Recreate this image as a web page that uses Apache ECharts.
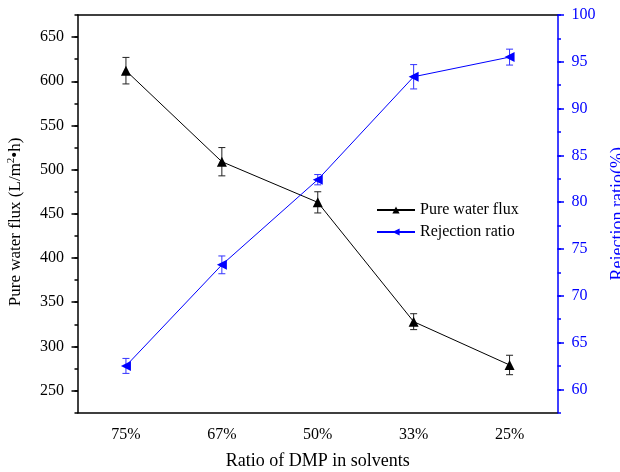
<!DOCTYPE html>
<html>
<head>
<meta charset="utf-8">
<script src="https://cdn.jsdelivr.net/npm/echarts@6/dist/echarts.min.js"></script>
<style>html,body{margin:0;padding:0;background:#fff;}#c{width:620px;height:472px;}</style>
</head>
<body>
<div id="c"></div>
<script>
var categories = ['75%', '67%', '50%', '33%', '25%'];
var fluxValues = [612, 509, 463, 328, 279];
var fluxErrors = [15, 16, 12, 9, 11];
var rejectionValues = [62.5, 73.3, 82.4, 93.4, 95.5];
var rejectionErrors = [0.8, 0.95, 0.55, 1.3, 0.85];
var fluxTicks = [250, 300, 350, 400, 450, 500, 550, 600, 650];
var rejectionTicks = [60, 65, 70, 75, 80, 85, 90, 95, 100];

var FONT = "'Liberation Serif', 'Times New Roman', serif";
var BLUE = '#0000ff';

function errData(vals, errs) {
  return vals.map(function (v, i) { return [i, v - errs[i], v + errs[i]]; });
}
function errRenderer(color) {
  return function (params, api) {
    var x = api.value(0), lo = api.value(1), hi = api.value(2);
    var p1 = api.coord([x, hi]), p2 = api.coord([x, lo]);
    var w = 3.5, st = { stroke: color, lineWidth: 1 };
    return {
      type: 'group',
      children: [
        { type: 'line', shape: { x1: p1[0], y1: p1[1], x2: p2[0], y2: p2[1] }, style: st },
        { type: 'line', shape: { x1: p1[0] - w, y1: p1[1], x2: p1[0] + w, y2: p1[1] }, style: st },
        { type: 'line', shape: { x1: p2[0] - w, y1: p2[1], x2: p2[0] + w, y2: p2[1] }, style: st }
      ]
    };
  };
}

var chart = echarts.init(document.getElementById('c'), null, { renderer: 'canvas' });
var option = {
  animation: false,
  backgroundColor: '#fff',
  textStyle: { fontFamily: FONT },
  grid: { left: 78, right: 62.5, top: 15, bottom: 59.3, containLabel: false, outerBoundsMode: 'none' },
  legend: {
    orient: 'vertical',
    left: 376,
    top: 202,
    padding: 0,
    itemGap: 6,
    itemWidth: 38,
    itemHeight: 9,
    data: ['Pure water flux', 'Rejection ratio'],
    textStyle: { fontFamily: FONT, fontSize: 16, color: '#000' }
  },
  xAxis: [
    {
      type: 'category', position: 'bottom', data: categories,
      axisLine: { lineStyle: { color: '#000', width: 1.5 } },
      axisTick: { alignWithLabel: true, length: 5, lineStyle: { color: '#000', width: 1.5 } },
      axisLabel: { fontFamily: FONT, fontSize: 16, color: '#000', margin: 14 },
      name: 'Ratio of DMP in solvents', nameLocation: 'middle', nameGap: 40,
      nameTextStyle: { fontFamily: FONT, fontSize: 18, color: '#000' },
      splitLine: { show: false }
    },
    {
      type: 'category', position: 'bottom', data: categories,
      axisLine: { show: false },
      axisTick: { length: 3, lineStyle: { color: '#000', width: 1.5 } },
      axisLabel: { show: false }, splitLine: { show: false }
    },
    {
      type: 'category', position: 'top', data: categories,
      axisLine: { lineStyle: { color: '#000', width: 1.5 } },
      axisTick: { alignWithLabel: true, inside: true, length: 5, lineStyle: { color: '#000', width: 1.5 } },
      axisLabel: { show: false }, splitLine: { show: false }
    }
  ],
  yAxis: [
    {
      type: 'value', position: 'left', min: 225, max: 675, interval: 25,
      axisLine: { show: true, lineStyle: { color: '#000', width: 1.5 } },
      axisTick: { show: true, length: 3.5, lineStyle: { color: '#000', width: 1.5 } },
      axisLabel: {
        fontFamily: FONT, fontSize: 16, color: '#000', margin: 14,
        formatter: function (v) { return fluxTicks.indexOf(v) >= 0 ? String(v) : ''; }
      },
      splitLine: { show: false },
      name: 'Pure water flux (L/m{sup|2}•h)', nameLocation: 'middle', nameGap: 53, nameRotate: 90,
      nameTextStyle: {
        fontFamily: FONT, fontSize: 17, color: '#000', padding: [0, 16, 0, 0],
        rich: { sup: { fontFamily: FONT, fontSize: 11, color: '#000', verticalAlign: 'top', padding: [0, 0, 8, 0] } }
      }
    },
    {
      type: 'value', position: 'right', min: 57.5, max: 100, interval: 2.5,
      axisLine: { show: true, lineStyle: { color: BLUE, width: 1.5 } },
      axisTick: { show: true, length: 3.5, lineStyle: { color: BLUE, width: 1.5 } },
      axisLabel: {
        fontFamily: FONT, fontSize: 16, color: BLUE, margin: 14,
        formatter: function (v) { return rejectionTicks.indexOf(v) >= 0 ? String(v) : ''; }
      },
      splitLine: { show: false },
      name: 'Rejection ratio(%)', nameLocation: 'middle', nameGap: 52, nameRotate: 90,
      nameTextStyle: { fontFamily: FONT, fontSize: 18, color: BLUE }
    },
    {
      type: 'value', position: 'left', min: 225, max: 675,
      axisLine: { show: false },
      axisTick: { show: true, length: 6.5, customValues: fluxTicks, lineStyle: { color: '#000', width: 1.5 } },
      axisLabel: { show: false }, splitLine: { show: false }
    },
    {
      type: 'value', position: 'right', min: 57.5, max: 100,
      axisLine: { show: false },
      axisTick: { show: true, length: 6.5, customValues: rejectionTicks, lineStyle: { color: BLUE, width: 1.5 } },
      axisLabel: { show: false }, splitLine: { show: false }
    }
  ],
  series: [
    {
      type: 'custom', name: 'fluxErr', xAxisIndex: 0, yAxisIndex: 0, z: 2,
      renderItem: errRenderer('#222'), data: errData(fluxValues, fluxErrors),
      encode: { x: 0, y: [1, 2] }, silent: true
    },
    {
      type: 'custom', name: 'rejErr', xAxisIndex: 0, yAxisIndex: 1, z: 2,
      renderItem: errRenderer('#3333ff'), data: errData(rejectionValues, rejectionErrors),
      encode: { x: 0, y: [1, 2] }, silent: true
    },
    {
      type: 'line', name: 'Pure water flux', xAxisIndex: 0, yAxisIndex: 0, z: 3,
      data: fluxValues, symbol: 'triangle', symbolSize: 10, showAllSymbol: true,
      lineStyle: { color: '#000', width: 1 }, itemStyle: { color: '#000' }
    },
    {
      type: 'line', name: 'Rejection ratio', xAxisIndex: 0, yAxisIndex: 1, z: 3,
      data: rejectionValues, symbol: 'triangle', symbolSize: 10, symbolRotate: 90, showAllSymbol: true,
      lineStyle: { color: BLUE, width: 1 }, itemStyle: { color: BLUE }
    }
  ]
};
chart.setOption(option);
</script>
</body>
</html>
